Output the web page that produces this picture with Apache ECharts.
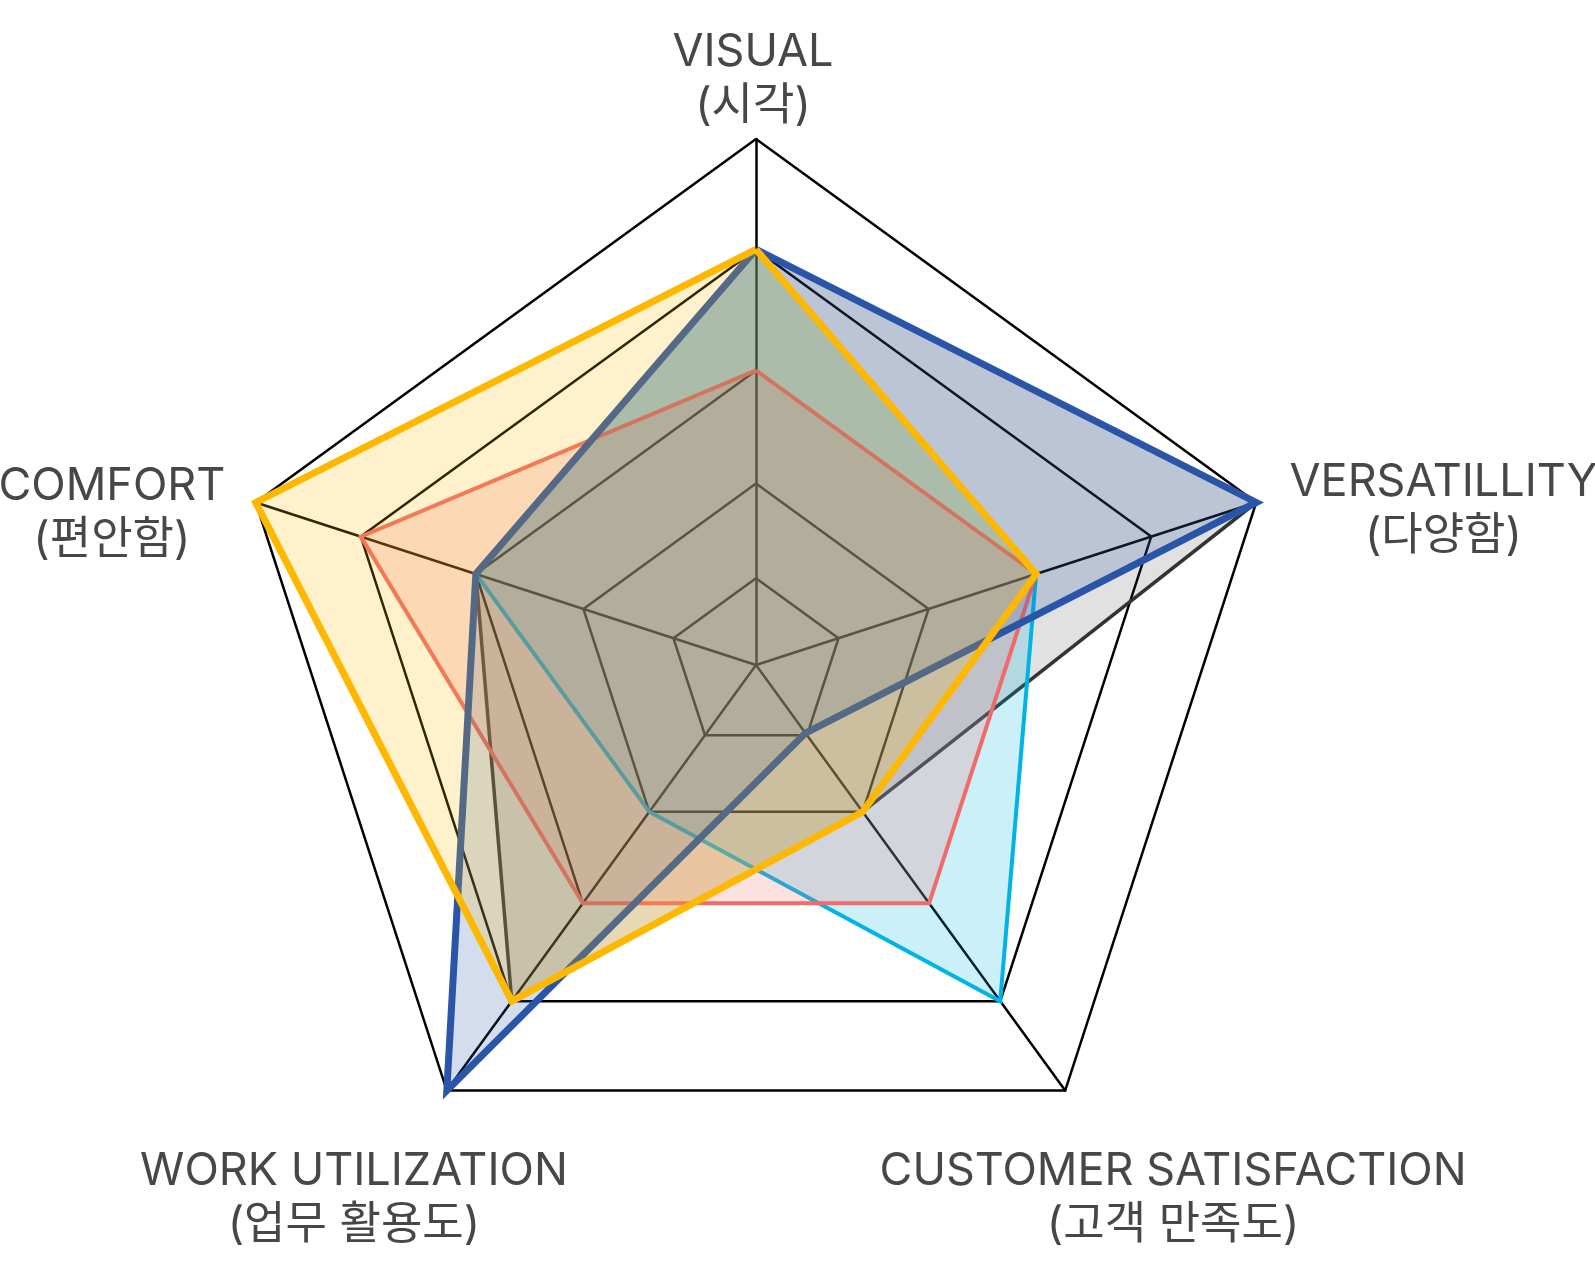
<!DOCTYPE html>
<html>
<head>
<meta charset="utf-8">
<script src="https://cdn.jsdelivr.net/npm/echarts@6/dist/echarts.min.js"></script>
<style>
  html, body { margin: 0; padding: 0; background: #ffffff; }
  #chart { width: 1595px; height: 1276px; }
</style>
</head>
<body>
<div id="chart"></div>
<script>
// Axes, listed counter-clockwise from the top (ECharts radar order)
const axisNames   = ['VISUAL', 'COMFORT', 'WORK UTILIZATION', 'CUSTOMER SATISFACTION', 'VERSATILLITY'];
const axisNamesKo = ['시각', '편안함', '업무 활용도', '고객 만족도', '다양함'];
const axisMax = 100;

// Grid ring levels (share of the axis length, %)
const ringLevels = [16.5, 34.5, 56, 79, 100];

// Series values, same order as axisNames (VISUAL, COMFORT, WORK, CUSTOMER, VERSATILLITY)
const seriesNames  = ['Series Gray', 'Series Cyan', 'Series Red', 'Series Blue', 'Series Yellow'];
const grayValues   = [79, 56, 79, 34.5, 100];
const cyanValues   = [79, 56, 34.5, 79, 56];
const redValues    = [56, 79, 56, 56, 56];
const blueValues   = [79, 56, 100, 16, 100];
const yellowValues = [79, 100, 79, 34.5, 56];

const CENTER = [756, 665];
const RADIUS = 526;
const FONT = 'Inter, "Noto Sans CJK KR", "Noto Sans", sans-serif';
const TEXT_COLOR = '#474747';
const FONT_SIZE = 45;
const LINE_H = 54;

const indicators = axisNames.map(n => ({ name: n, min: 0, max: axisMax }));

function labelRadar(idx, align, va, gap, pad) {
  return {
    center: CENTER, radius: RADIUS, shape: 'polygon', splitNumber: 5,
    indicator: indicators,
    axisLine: { show: false }, splitLine: { show: false }, splitArea: { show: false },
    axisTick: { show: false }, axisLabel: { show: false },
    nameGap: gap,
    axisName: {
      show: true,
      formatter: (name) => name === axisNames[idx] ? '{t|' + name + '}\n{t|(' + axisNamesKo[idx] + ')}' : '',
      align: align, verticalAlign: va, padding: pad,
      color: TEXT_COLOR, fontFamily: FONT, fontSize: FONT_SIZE, lineHeight: LINE_H,
      rich: { t: { align: 'center', color: TEXT_COLOR, fontFamily: FONT, fontSize: FONT_SIZE, lineHeight: LINE_H } }
    }
  };
}

const radars = [
  {
    center: CENTER, radius: RADIUS, shape: 'polygon', splitNumber: 5,
    indicator: indicators,
    axisName: { show: false },
    axisLine: { show: true, lineStyle: { color: '#000', width: 2.5 } },
    splitLine: { show: false }, splitArea: { show: false },
    axisTick: { show: false }, axisLabel: { show: false }
  },
  labelRadar(0, 'center', 'bottom', 6, [0, 6, 0, 0]),
  labelRadar(1, 'right', 'middle', 32, [41, 0, 0, 0]),
  labelRadar(2, 'center', 'top', 67, [0, 107, 0, 0]),
  labelRadar(3, 'center', 'top', 67, [0, 0, 0, 137]),
  labelRadar(4, 'left', 'middle', 35, [35, 0, 0, 0])
];

const palette = [
  { line: '#333333', width: 3.5, area: '#333333', op: 0.15 },
  { line: '#00b4e6', width: 4,   area: '#00b4e6', op: 0.2 },
  { line: '#f26b6b', width: 4,   area: '#f26b6b', op: 0.2 },
  { line: '#2a55a8', width: 7,   area: '#2a55a8', op: 0.2 },
  { line: '#ffb800', width: 7,   area: '#ffb800', op: 0.2 }
];
const allValues = [grayValues, cyanValues, redValues, blueValues, yellowValues];

const series = [
  {
    name: 'grid', type: 'radar', radarIndex: 0, silent: true, symbol: 'none',
    lineStyle: { color: '#000', width: 2.5, join: 'miter' },
    data: ringLevels.map(l => ({ value: axisNames.map(() => l) }))
  }
].concat(allValues.map((vals, i) => ({
  name: seriesNames[i], type: 'radar', radarIndex: 0, symbol: 'none',
  data: [{
    value: vals, name: seriesNames[i],
    lineStyle: { color: palette[i].line, width: palette[i].width, join: 'miter' },
    areaStyle: { color: palette[i].area, opacity: palette[i].op },
    itemStyle: { color: palette[i].line }
  }]
})));

const chart = echarts.init(document.getElementById('chart'), null, { renderer: 'canvas' });
chart.setOption({
  backgroundColor: '#ffffff',
  animation: false,
  radar: radars,
  series: series
});
</script>
</body>
</html>
